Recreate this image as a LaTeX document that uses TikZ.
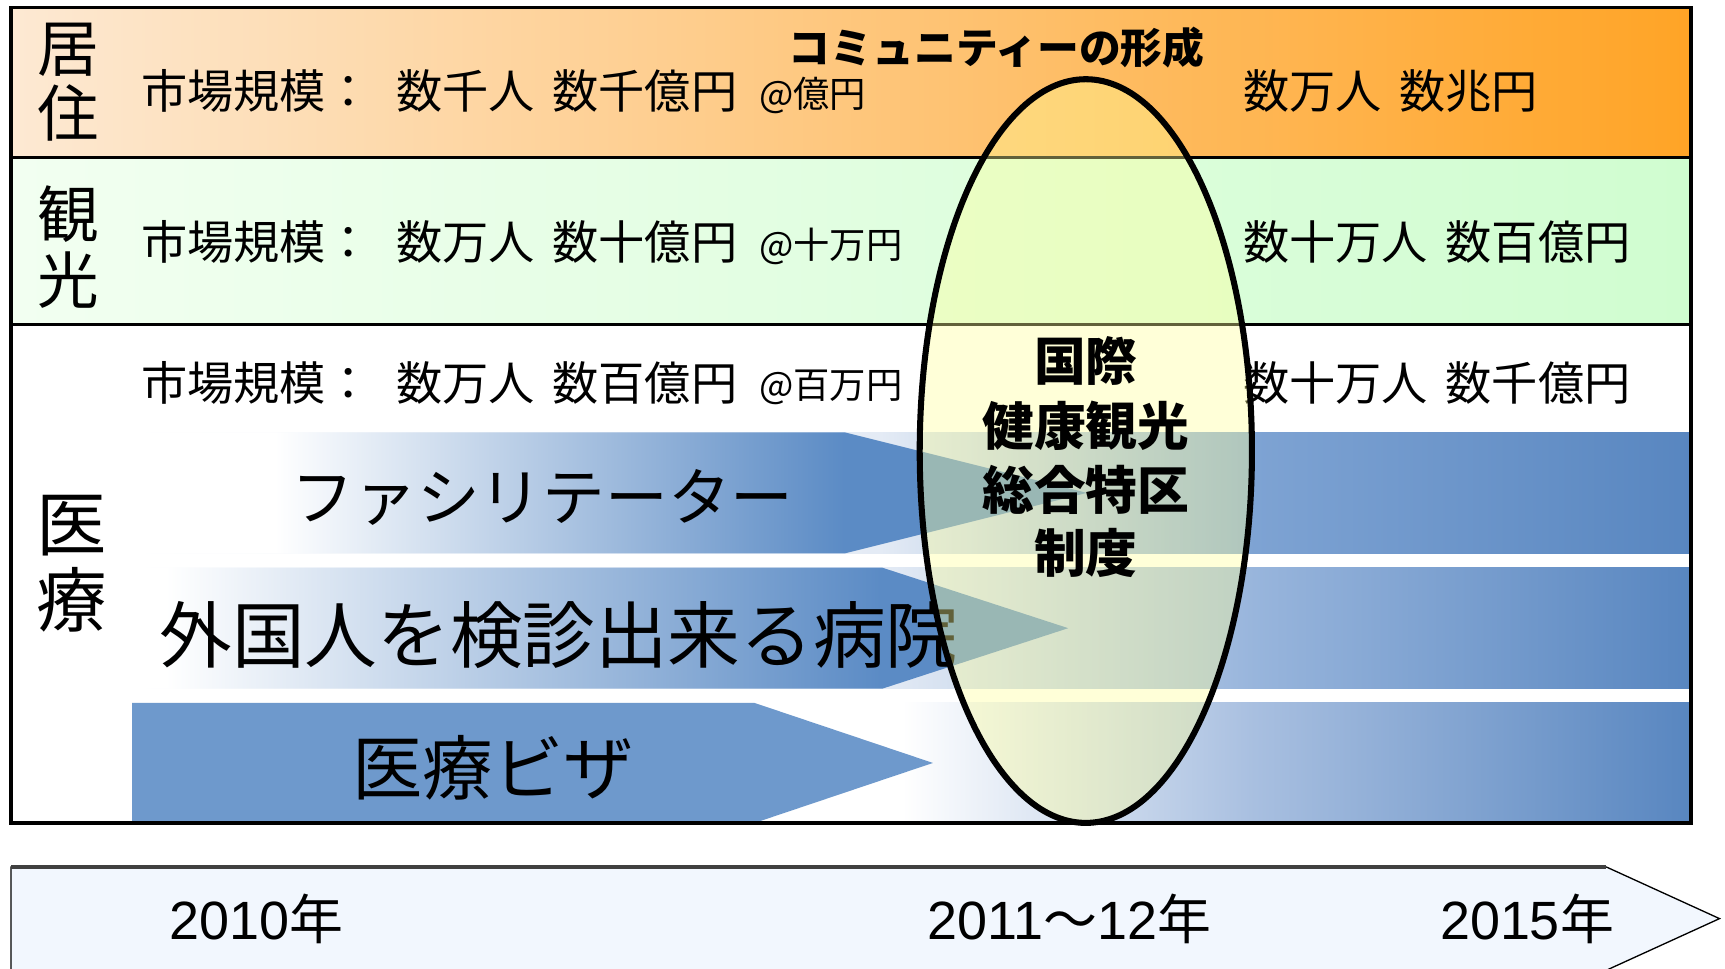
\documentclass[tikz,border=0pt]{standalone}
\usepackage{fontspec}
\setmainfont{Noto Sans CJK JP}
\newfontfamily\latinf{Liberation Sans}
\newcommand\fsz[1]{\fontsize{#1pt}{#1pt}\selectfont}
\definecolor{rowblue}{HTML}{5886C0}
\definecolor{arrblue}{HTML}{5B8BC5}
\definecolor{solidblue}{HTML}{6E99CC}
\definecolor{lightA}{HTML}{E4EBF5}
\definecolor{midA}{HTML}{7EA3D3}
\definecolor{midB}{HTML}{98B5DC}
\definecolor{midC}{HTML}{A8BFE0}
\definecolor{orL}{HTML}{FDE9D3}
\definecolor{orR}{HTML}{FFA426}
\definecolor{grL}{HTML}{F2FFF1}
\definecolor{grR}{HTML}{D0FDD0}
\definecolor{tlfill}{HTML}{F2F7FE}
\definecolor{ellfill}{HTML}{FFFF99}
\pgfdeclarehorizontalshading{rowAshade}{100bp}{color(0bp)=(white); color(25bp)=(white); color(49bp)=(lightA); color(61bp)=(midA); color(75bp)=(rowblue); color(100bp)=(rowblue)}
\pgfdeclarehorizontalshading{rowBshade}{100bp}{color(0bp)=(white); color(25bp)=(white); color(49bp)=(lightA); color(61bp)=(midB); color(75bp)=(rowblue); color(100bp)=(rowblue)}
\pgfdeclarehorizontalshading{rowCshade}{100bp}{color(0bp)=(white); color(25bp)=(white); color(49.7bp)=(white); color(61bp)=(midC); color(75bp)=(rowblue); color(100bp)=(rowblue)}
\pgfdeclarehorizontalshading{arrAshade}{100bp}{color(0bp)=(white); color(25bp)=(white); color(32.5bp)=(white); color(62.3bp)=(arrblue); color(75bp)=(arrblue); color(100bp)=(arrblue)}
\pgfdeclarehorizontalshading{arrBshade}{100bp}{color(0bp)=(white); color(25bp)=(white); color(26.8bp)=(white); color(65bp)=(arrblue); color(75bp)=(arrblue); color(100bp)=(arrblue)}
\begin{document}
\begin{tikzpicture}[x=1pt,y=-1pt,
  txt/.style={inner sep=0pt, anchor=west, font=\fsz{42}},
  small/.style={inner sep=0pt, anchor=west, font=\fsz{33}},
  lbl/.style={inner sep=0pt, font=\fsz{56}},
  bigl/.style={inner sep=0pt, font=\fsz{64}},
  boldt/.style={inner sep=0pt, font=\fsz{47}\bfseries},
  year/.style={inner sep=0pt, font=\fsz{49}},
  frameline/.style={line width=3pt, black}]
\useasboundingbox (0,0) rectangle (1568,880);
% bands
\fill[left color=orL, right color=orR] (10,7) rectangle (1537,143);
\fill[left color=grL, right color=grR] (10,143) rectangle (1537,295);
\fill[white] (10,295) rectangle (1537,748);
% row rectangles
\path[shading=rowAshade] (120,393) rectangle (1537,503);
\path[shading=rowBshade] (120,516) rectangle (1537,626);
\path[shading=rowCshade] (120,639) rectangle (1537,748);
% arrows
\path[shading=arrAshade] (120,393) -- (768,393) -- (988,448) -- (768,503) -- (120,503) -- cycle;
\path[shading=arrBshade] (120,516) -- (802,516) -- (971,571) -- (802,626) -- (120,626) -- cycle;
\fill[solidblue] (120,639) -- (686,639) -- (848,693.5) -- (686,748) -- (120,748) -- cycle;
% frame
\draw[frameline] (10,7) rectangle (1537,748);
\draw[frameline] (10,143) -- (1537,143);
\draw[frameline] (10,295) -- (1537,295);
% side labels
\node[lbl] (lk1) at (62,45) {居};
\node[lbl] (lk2) at (62,103) {住};
\node[lbl] (lt1) at (62,195) {観};
\node[lbl] (lt2) at (62,255) {光};
\node[bigl] (lm1) at (65,478) {医};
\node[bigl] (lm2) at (65,545) {療};
% row texts
\node[txt] (r1a) at (128,83) {市場規模：};
\node[txt] (r1b) at (360,83) {数千人\hspace{16pt}数千億円};
\node[small] (r1c) at (690,87) {@億円};
\node[txt] (r1d) at (1130,83) {数万人\hspace{16pt}数兆円};
\node[txt] (r2a) at (128,220) {市場規模：};
\node[txt] (r2b) at (360,220) {数万人\hspace{16pt}数十億円};
\node[small] (r2c) at (690,224) {@十万円};
\node[txt] (r2d) at (1130,220) {数十万人\hspace{16pt}数百億円};
\node[txt] (r3a) at (128,348) {市場規模：};
\node[txt] (r3b) at (360,348) {数万人\hspace{16pt}数百億円};
\node[small] (r3c) at (690,352) {@百万円};
\node[txt] (r3d) at (1130,348) {数十万人\hspace{16pt}数千億円};
\node[inner sep=0pt, font=\fsz{38}\bfseries] (comm) at (906,43) {コミュニティーの形成};
% arrow texts
\node[inner sep=0pt, anchor=west, font=\fsz{57}] (aA) at (265,452) {ファシリテーター};
\node[inner sep=0pt, anchor=west, font=\fsz{66}] (aB) at (145,577) {外国人を検診出来る病院};
\node[inner sep=0pt, anchor=west, font=\fsz{64}] (aC) at (320,698) {医療ビザ};
% ellipse
\draw[line width=5.5pt, fill=ellfill, fill opacity=0.38] (987,410) ellipse [x radius=151pt, y radius=338pt];
\node[boldt] (e1) at (987,328) {国際};
\node[boldt] (e2) at (987,387) {健康観光};
\node[boldt] (e3) at (987,445) {総合特区};
\node[boldt] (e4) at (987,503) {制度};
% timeline
\draw[line width=1.2pt, fill=tlfill] (10,788) -- (1460,788) -- (1563,835) -- (1460,882) -- (10,882) -- cycle;
\draw[line width=3pt, black!75] (10,788) -- (1460,788);
\node[year] (y1) at (233,835) {{\latinf 2010}年};
\node[year] (y2) at (972,835) {{\latinf 2011}〜{\latinf 12}年};
\node[year] (y3) at (1388,835) {{\latinf 2015}年};
\end{tikzpicture}
\end{document}
